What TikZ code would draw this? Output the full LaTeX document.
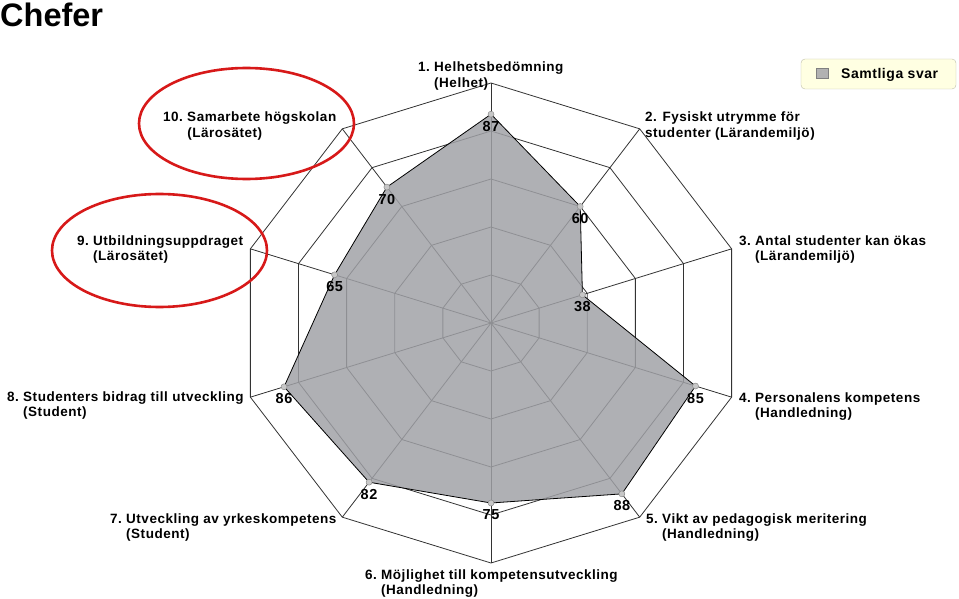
\documentclass[tikz,border=0pt]{standalone}
\usepackage{fontspec}
\setmainfont{Liberation Sans}
\newfontfamily\chartfont[LetterSpace=3.8]{Liberation Sans}
\definecolor{areagray}{RGB}{160,161,166}
\definecolor{ringred}{RGB}{215,25,25}
\definecolor{legendfill}{RGB}{255,255,226}
\definecolor{legendline}{RGB}{190,190,170}
\begin{document}
\begin{tikzpicture}[x=1pt,y=-1pt,
  axislabel/.style={anchor=base west,inner sep=0pt,font=\chartfont\bfseries\fontsize{13.5}{15.5}\selectfont},
  value/.style={inner sep=0pt,font=\chartfont\bfseries\fontsize{14.5}{15}\selectfont},
  web/.style={draw=black!80,line width=0.8pt},
  area/.style={fill=areagray,fill opacity=0.84},
  marker/.style={circle,fill=black!22,draw=black!45,line width=0.5pt,minimum size=6pt,inner sep=0pt},
  highlight/.style={draw=ringred,line width=2.6pt}]
\useasboundingbox (0,0) rectangle (959,599);
\node[anchor=base west,inner sep=0pt,font=\bfseries\fontsize{32.5}{32}\selectfont] (title) at (0,27) {Chefer};
\begin{scope}[shift={(491,323)},x=253pt,y=240pt]
\coordinate (c) at (0,0);
\foreach \k in {1,...,10}
  \coordinate (a\k) at ({126-36*\k}:1);
\foreach \r in {0.2,0.4,0.6,0.8}
  \draw[web] (90:\r) \foreach \k in {1,...,9} {-- ({90-36*\k}:\r)} -- cycle;
\draw[web] (a1) \foreach \k in {2,...,10} {-- (a\k)} -- cycle;
\foreach \k in {1,...,10}
  \draw[web] (c) -- (a\k);
\foreach \v [count=\k] in {87,60,38,85,88,75,82,86,65,70}
  \coordinate (p\k) at ({126-36*\k}:{\v/100});
\fill[area] (p1) \foreach \k in {2,...,10} {-- (p\k)} -- cycle;
\draw[black,line width=0.8pt] (p1) \foreach \k in {2,...,10} {-- (p\k)} -- cycle;
\foreach \v [count=\k] in {87,60,38,85,88,75,82,86,65,70} {
  \node[marker] (m\k) at (p\k) {};
  \node[value] (v\k) at ([yshift=-12pt]p\k) {\v};
}
\end{scope}
\node[axislabel] (l1) at (418,72) {\begin{tabular}[t]{@{}l@{\ }l@{}}1.&Helhetsbedömning\\&(Helhet)\end{tabular}};
\node[axislabel] (l2) at (645,122) {\begin{tabular}[t]{@{}l@{}}2. Fysiskt utrymme för\\studenter (Lärandemiljö)\end{tabular}};
\node[axislabel] (l3) at (739,245) {\begin{tabular}[t]{@{}l@{\ }l@{}}3.&Antal studenter kan ökas\\&(Lärandemiljö)\end{tabular}};
\node[axislabel] (l4) at (739,402) {\begin{tabular}[t]{@{}l@{\ }l@{}}4.&Personalens kompetens\\&(Handledning)\end{tabular}};
\node[axislabel] (l5) at (646,523) {\begin{tabular}[t]{@{}l@{\ }l@{}}5.&Vikt av pedagogisk meritering\\&(Handledning)\end{tabular}};
\node[axislabel] (l6) at (365,579) {\begin{tabular}[t]{@{}l@{\ }l@{}}6.&Möjlighet till kompetensutveckling\\&(Handledning)\end{tabular}};
\node[axislabel] (l7) at (110,523) {\begin{tabular}[t]{@{}l@{\ }l@{}}7.&Utveckling av yrkeskompetens\\&(Student)\end{tabular}};
\node[axislabel] (l8) at (7,401) {\begin{tabular}[t]{@{}l@{\ }l@{}}8.&Studenters bidrag till utveckling\\&(Student)\end{tabular}};
\node[axislabel] (l9) at (77,245) {\begin{tabular}[t]{@{}l@{\ }l@{}}9.&Utbildningsuppdraget\\&(Lärosätet)\end{tabular}};
\node[axislabel] (l10) at (163,122) {\begin{tabular}[t]{@{}l@{\ }l@{}}10.&Samarbete högskolan\\&(Lärosätet)\end{tabular}};
\node[draw=legendline,fill=legendfill,rounded corners=4pt,minimum width=155pt,minimum height=30pt,inner sep=0pt] (legend) at (878.5,74) {};
\node[draw=black!50,fill=black!30,minimum width=12pt,minimum height=10pt,inner sep=0pt] (key) at (822.5,73) {};
\node[anchor=base west,inner sep=0pt,font=\chartfont\bfseries\fontsize{14}{16}\selectfont] (keytext) at (841,79) {Samtliga svar};
\draw[highlight] (246.5,123.5) ellipse [x radius=107.5pt,y radius=55.5pt];
\draw[highlight] (159.5,250.5) ellipse [x radius=107.5pt,y radius=56.5pt];
\end{tikzpicture}
\end{document}
